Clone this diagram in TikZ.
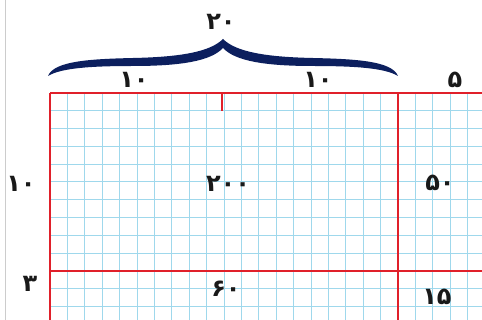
\documentclass[tikz,border=0pt]{standalone}
\usepackage{fontspec}
\newfontfamily\fa{DejaVu Sans}
\definecolor{gridc}{HTML}{9FD8EC}
\definecolor{redl}{HTML}{E0202A}
\definecolor{bracec}{HTML}{0C1F5E}
\tikzset{
  num/.style={font=\fa\bfseries\fontsize{24}{26}\selectfont, text=black!90, inner sep=0pt},
  gridline/.style={draw=gridc, line width=1pt},
  redline/.style={draw=redl, line width=1.8pt},
}
\begin{document}
\begin{tikzpicture}[x=1pt,y=-1pt]
\useasboundingbox (0,0) rectangle (482,320);
\fill[white] (0,0) rectangle (482,320);
\draw[black!20, line width=1pt] (5,0) -- (5,320);
% grid
\foreach \k in {0,...,24} {\draw[gridline] ({50+\k*17.4},93) -- ({50+\k*17.4},320);}
\foreach \k in {0,...,12} {\draw[gridline] (50,{93+\k*17.8}) -- (482,{93+\k*17.8});}
% red lines
\draw[redline] (50,93) -- (482,93);
\draw[redline] (50,93) -- (50,320);
\draw[redline] (398,93) -- (398,320);
\draw[redline] (50,271) -- (482,271);
\draw[redline] (222,93) -- (222,111);
% brace
\fill[bracec] (48,76) .. controls (54,61) and (90,59) .. (133,58)
  .. controls (180,57) and (210,52) .. (223,39)
  .. controls (236,52) and (266,57) .. (313,58)
  .. controls (356,59) and (392,61) .. (398,76)
  .. controls (385,68) and (355,66) .. (313,66)
  .. controls (265,66) and (235,61) .. (223,48)
  .. controls (211,61) and (181,66) .. (133,66)
  .. controls (91,66) and (61,68) .. (48,76) -- cycle;
% labels
\node[num] (top) at (221,22) {۲۰};
\node[num] (l1) at (134,80) {۱۰};
\node[num] (l2) at (318,80) {۱۰};
\node[num] (l5) at (455,80) {۵};
\node[num] (lv1) at (21,184) {۱۰};
\node[num] (c200) at (228,184) {۲۰۰};
\node[num] (c50) at (440,183) {۵۰};
\node[num] (lv3) at (30,284) {۳};
\node[num] (c60) at (226,289) {۶۰};
\node[num] (c15) at (437,297) {۱۵};
\end{tikzpicture}
\end{document}
